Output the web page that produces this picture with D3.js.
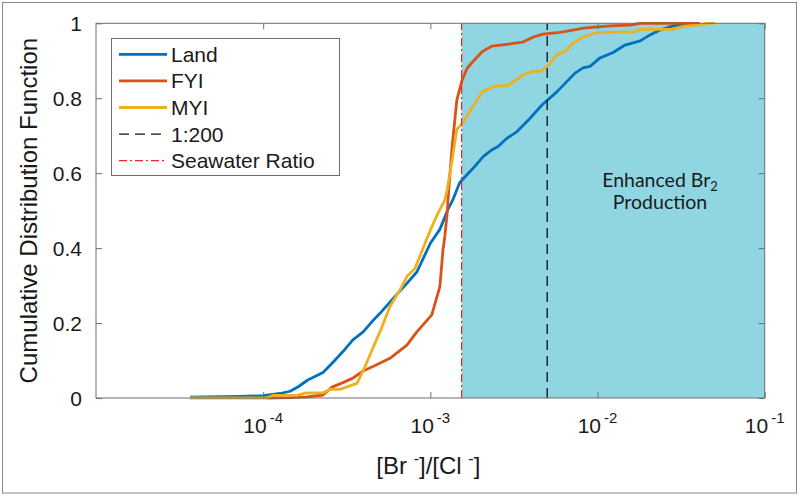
<!DOCTYPE html>
<html><head><meta charset="utf-8">
<script src="https://cdn.jsdelivr.net/npm/d3@7"></script>
<style>body{margin:0;background:#fff}svg{display:block}</style>
</head><body><svg id="c" width="800" height="498"></svg>
<script>
const landX=[3.65e-5,7.26e-5,1.0e-4,1.26e-4,1.45e-4,1.62e-4,1.85e-4,2.28e-4,2.61e-4,3.0e-4,3.44e-4,3.95e-4,4.48e-4,5.0e-4,5.89e-4,7.24e-4,8.32e-4,1.0e-3,1.14e-3,1.27e-3,1.36e-3,1.50e-3,1.80e-3,2.07e-3,2.33e-3,2.54e-3,2.87e-3,3.30e-3,3.94e-3,4.65e-3,5.71e-3,7.33e-3,8.19e-3,9.02e-3,1.03e-2,1.24e-2,1.46e-2,1.80e-2,2.06e-2,2.36e-2,2.83e-2,3.43e-2];
const landY=[0.002,0.004,0.006,0.012,0.018,0.030,0.048,0.068,0.095,0.124,0.155,0.176,0.204,0.226,0.262,0.306,0.337,0.413,0.450,0.502,0.528,0.575,0.613,0.644,0.662,0.671,0.693,0.711,0.746,0.782,0.817,0.867,0.881,0.885,0.907,0.922,0.942,0.953,0.969,0.982,0.993,1.0];
const fyiX=[1.05e-4,1.45e-4,1.83e-4,2.28e-4,2.58e-4,3.0e-4,3.44e-4,3.95e-4,4.54e-4,5.73e-4,7.24e-4,8.32e-4,9.04e-4,1.02e-3,1.14e-3,1.19e-3,1.22e-3,1.26e-3,1.28e-3,1.35e-3,1.44e-3,1.55e-3,1.66e-3,1.80e-3,2.04e-3,2.33e-3,2.87e-3,3.58e-3,4.17e-3,4.71e-3,5.96e-3,7.54e-3,8.19e-3,1.19e-2,1.56e-2,1.80e-2,4.09e-2];
const fyiY=[0,0.001,0.003,0.008,0.029,0.041,0.053,0.072,0.084,0.106,0.141,0.177,0.195,0.222,0.297,0.395,0.430,0.493,0.540,0.671,0.795,0.849,0.880,0.898,0.924,0.939,0.944,0.950,0.964,0.971,0.976,0.984,0.987,0.993,0.995,1.0,1.0];
const myiX=[3.65e-5,1.05e-4,1.15e-4,1.59e-4,1.78e-4,2.28e-4,2.51e-4,2.88e-4,3.64e-4,4.07e-4,4.48e-4,5.0e-4,5.73e-4,6.58e-4,7.24e-4,8.09e-4,1.0e-3,1.11e-3,1.22e-3,1.26e-3,1.35e-3,1.44e-3,1.57e-3,1.77e-3,2.04e-3,2.43e-3,2.91e-3,3.58e-3,4.11e-3,4.58e-3,5.05e-3,5.71e-3,6.38e-3,7.13e-3,8.3e-3,9.9e-3,1.65e-2,1.82e-2,2.83e-2,3.29e-2,4.09e-2,4.51e-2,5.04e-2];
const myiY=[0,0,0.007,0.007,0.013,0.014,0.023,0.023,0.039,0.084,0.128,0.177,0.244,0.288,0.324,0.346,0.448,0.493,0.528,0.555,0.635,0.717,0.735,0.773,0.817,0.832,0.834,0.862,0.872,0.872,0.887,0.916,0.925,0.947,0.964,0.975,0.977,0.984,0.984,0.992,0.995,1.0,1.0];
const seriesNames=["Land","FYI","MYI"];
const seriesColors=["#0072BD","#D95319","#EDB120"];
const xTickExp=[-4,-3,-2,-1];
const yTicks=[0,0.2,0.4,0.6,0.8,1];
const seawaterRatio=1/650;
const ratio200=1/200;

const svg=d3.select("#c");
const L=96,R=764.7,T=23.3,B=398;
const x=d3.scaleLog().domain([1e-5,1e-1]).range([L,R]);
const y=d3.scaleLinear().domain([0,1]).range([B,T]);
const font="'Liberation Sans', Arial, sans-serif";
const txt="#1a1a1a", axc="#6e6e6e";

// figure border
svg.append("rect").attr("x",2.5).attr("y",2.5).attr("width",794).attr("height",490.5).attr("fill","none").attr("stroke","#8a8a8a").attr("stroke-width",1);

// shaded region
svg.append("rect").attr("x",x(seawaterRatio)).attr("y",T).attr("width",R-x(seawaterRatio)).attr("height",B-T).attr("fill","#8fd5e2");

// curves
const sets=[[landX,landY],[fyiX,fyiY],[myiX,myiY]];
const line=d3.line().x(d=>x(d[0])).y(d=>y(d[1]));
sets.forEach((s,i)=>{
  const pts=s[0].map((v,j)=>[v,s[1][j]]);
  svg.append("path").datum(pts).attr("d",line).attr("fill","none").attr("stroke",seriesColors[i]).attr("stroke-width",2.8).attr("stroke-linejoin","round");
});

// vertical reference lines
svg.append("line").attr("x1",x(ratio200)).attr("x2",x(ratio200)).attr("y1",B).attr("y2",T).attr("stroke","#111").attr("stroke-width",1.3).attr("stroke-dasharray","10,6");
svg.append("line").attr("x1",x(seawaterRatio)).attr("x2",x(seawaterRatio)).attr("y1",B).attr("y2",T).attr("stroke","#ff2020").attr("stroke-width",1.2).attr("stroke-dasharray","8,3,2,3");

// axes
const tickVals=xTickExp.map(e=>Math.pow(10,e));
const gB=svg.append("g").attr("transform",`translate(0,${B})`).call(d3.axisBottom(x).tickValues(tickVals).tickSize(-6).tickFormat(""));
const gT=svg.append("g").attr("transform",`translate(0,${T})`).call(d3.axisTop(x).tickValues(tickVals).tickSize(-6).tickFormat(""));
const gL=svg.append("g").attr("transform",`translate(${L},0)`).call(d3.axisLeft(y).tickValues(yTicks).tickSize(-6).tickFormat(""));
const gR=svg.append("g").attr("transform",`translate(${R},0)`).call(d3.axisRight(y).tickValues(yTicks).tickSize(-6).tickFormat(""));
[gB,gT,gL,gR].forEach(g=>{g.selectAll("path,line").attr("stroke",axc).attr("stroke-width",1);g.select(".domain").attr("d",null);});
svg.append("rect").attr("x",L).attr("y",T).attr("width",R-L).attr("height",B-T).attr("fill","none").attr("stroke",axc).attr("stroke-width",1);

// x tick labels
xTickExp.forEach(e=>{
  const t=svg.append("text").attr("x",x(Math.pow(10,e))).attr("y",433).attr("text-anchor","middle").attr("font-family",font).attr("font-size",21).attr("fill",txt);
  t.append("tspan").text("10");
  t.append("tspan").attr("dx",3).attr("dy",-10.5).attr("font-size",15).text(String(e));
});
// y tick labels
yTicks.forEach(v=>{
  svg.append("text").attr("x",82).attr("y",y(v)).attr("dy","0.36em").attr("text-anchor","end").attr("font-family",font).attr("font-size",21).attr("fill",txt).text(String(v));
});

// axis titles
const xt=svg.append("text").attr("x",(L+R)/2-2).attr("y",474).attr("text-anchor","middle").attr("font-family",font).attr("font-size",24).attr("fill",txt);
xt.append("tspan").text("[Br ");
xt.append("tspan").attr("dy",-10).attr("font-size",16).text("-");
xt.append("tspan").attr("dy",10).text("]/[Cl ");
xt.append("tspan").attr("dy",-10).attr("font-size",16).text("-");
xt.append("tspan").attr("dy",10).text("]");
svg.append("text").attr("transform",`translate(37,${(T+B)/2}) rotate(-90)`).attr("text-anchor","middle").attr("font-family",font).attr("font-size",24).attr("fill",txt).text("Cumulative Distribution Function");

// annotation
const annFont="Lato, 'Open Sans', sans-serif";
const ann=svg.append("text").attr("x",660).attr("y",187).attr("text-anchor","middle").attr("font-family",annFont).attr("font-size",19.5).attr("fill",txt);
ann.append("tspan").text("Enhanced Br");
ann.append("tspan").attr("dy",4).attr("font-size",13).text("2");
svg.append("text").attr("x",660).attr("y",209).attr("text-anchor","middle").attr("font-family",annFont).attr("font-size",19.5).attr("fill",txt).text("Production");

// legend
const lg=svg.append("g");
lg.append("rect").attr("x",111.5).attr("y",38.5).attr("width",228).attr("height",137).attr("fill","#fff").attr("stroke",axc).attr("stroke-width",1);
const legItems=[
  {name:seriesNames[0],color:seriesColors[0],w:2.8,dash:null},
  {name:seriesNames[1],color:seriesColors[1],w:2.8,dash:null},
  {name:seriesNames[2],color:seriesColors[2],w:2.8,dash:null},
  {name:"1:200",color:"#111",w:1.3,dash:"10,6"},
  {name:"Seawater Ratio",color:"#ff2020",w:1.2,dash:"8,3,2,3"}
];
legItems.forEach((d,i)=>{
  const yy=54.3+i*26.6;
  const ln=lg.append("line").attr("x1",119).attr("x2",167).attr("y1",yy).attr("y2",yy).attr("stroke",d.color).attr("stroke-width",d.w);
  if(d.dash) ln.attr("stroke-dasharray",d.dash);
  lg.append("text").attr("x",171).attr("y",yy).attr("dy","0.36em").attr("font-family",font).attr("font-size",21).attr("fill",txt).text(d.name);
});
</script></body></html>
